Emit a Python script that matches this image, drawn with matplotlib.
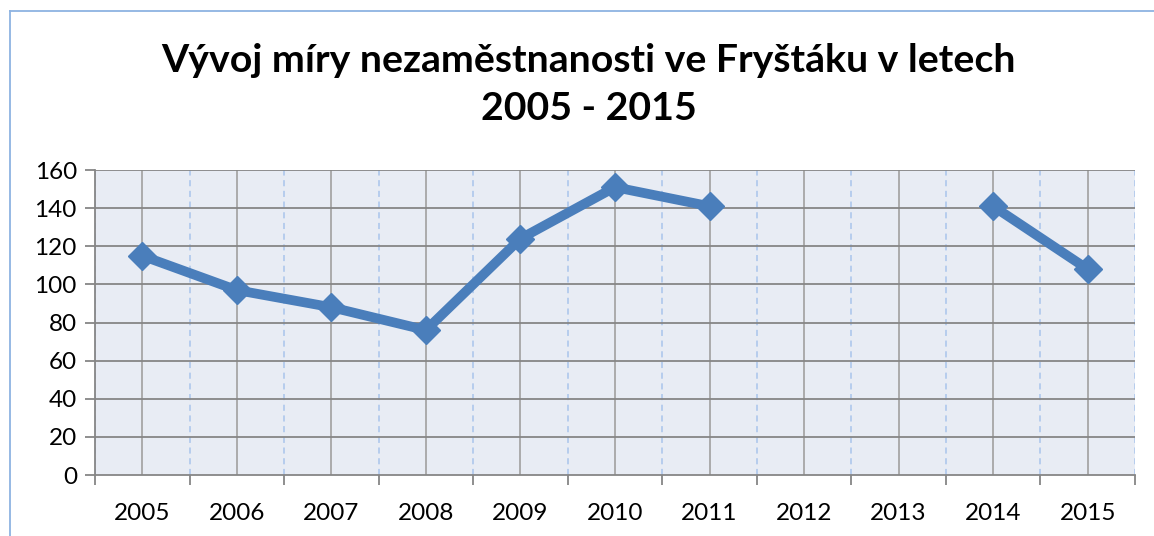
'''
Vyvoj miry nezamestnanosti ve Frystaku 2005 - 2015
'''

import matplotlib
matplotlib.use('Agg')
import matplotlib.pyplot as plt
import numpy as np

years = ['2005', '2006', '2007', '2008', '2009', '2010',
         '2011', '2012', '2013', '2014', '2015']
unemployed = [115, 97, 88, 76, 124, 151, 141, np.nan, np.nan, 141, 108]
yticks = [0, 20, 40, 60, 80, 100, 120, 140, 160]

matplotlib.rcParams.update({'font.family': ['Lato', 'DejaVu Sans'], 'font.size': 17.5})

fig = plt.figure(figsize=(11.54, 5.36), dpi=100)
ax = fig.add_axes([0.0823, 0.1138, 0.9012, 0.569])
ax.set_facecolor('#E8ECF4')

x = np.arange(len(years))

# gridlines: solid at categories, dashed at category boundaries
for xi in x:
    ax.axvline(xi, color='#A6A6A6', lw=1.3, zorder=1)
for xb in np.arange(len(years) + 1) - 0.5:
    ax.axvline(xb, color='#A9C4EB', lw=1.1, ls=(0, (4, 3)), zorder=1)
for yv in yticks[1:]:
    ax.axhline(yv, color='#868686', lw=1.3, zorder=1)

ax.plot(x, unemployed, color='#4A7EBB', lw=7, marker='D', markersize=14.5,
        solid_joinstyle='miter', zorder=3)

ax.set_xlim(-0.5, len(years) - 0.5)
ax.set_ylim(0, 160)
ax.set_yticks(yticks)
ax.set_xticks(np.arange(len(years) + 1) - 0.5)
ax.set_xticklabels([])
ax.set_xticks(x, minor=True)
ax.set_xticklabels(years, minor=True)
ax.tick_params(axis='x', which='minor', length=0, pad=20)
ax.tick_params(axis='x', which='major', length=7, width=1.3, color='#868686', direction='out')
ax.tick_params(axis='y', length=7, width=1.3, color='#868686', direction='out', pad=6)

for side in ['top', 'right']:
    ax.spines[side].set_visible(False)
ax.spines['left'].set_color('#868686')
ax.spines['bottom'].set_color('#868686')
ax.spines['left'].set_linewidth(1.3)
ax.spines['bottom'].set_linewidth(1.3)

fig.text(0.51, 0.887, 'Vývoj míry nezaměstnanosti ve Fryštáku v letech',
         ha='center', va='center', fontsize=28.3, fontweight='bold')
fig.text(0.51, 0.797, '2005 - 2015', ha='center', va='center',
         fontsize=28.3, fontweight='bold')

# chart border
fig.add_artist(plt.Line2D([10 / 1154, 10 / 1154], [0, 1 - 11 / 536],
                          transform=fig.transFigure, color='#8DB3E2', lw=1.3))
fig.add_artist(plt.Line2D([10 / 1154, 1], [1 - 11 / 536, 1 - 11 / 536],
                          transform=fig.transFigure, color='#8DB3E2', lw=1.3))

fig.savefig('out.png', dpi=100)
